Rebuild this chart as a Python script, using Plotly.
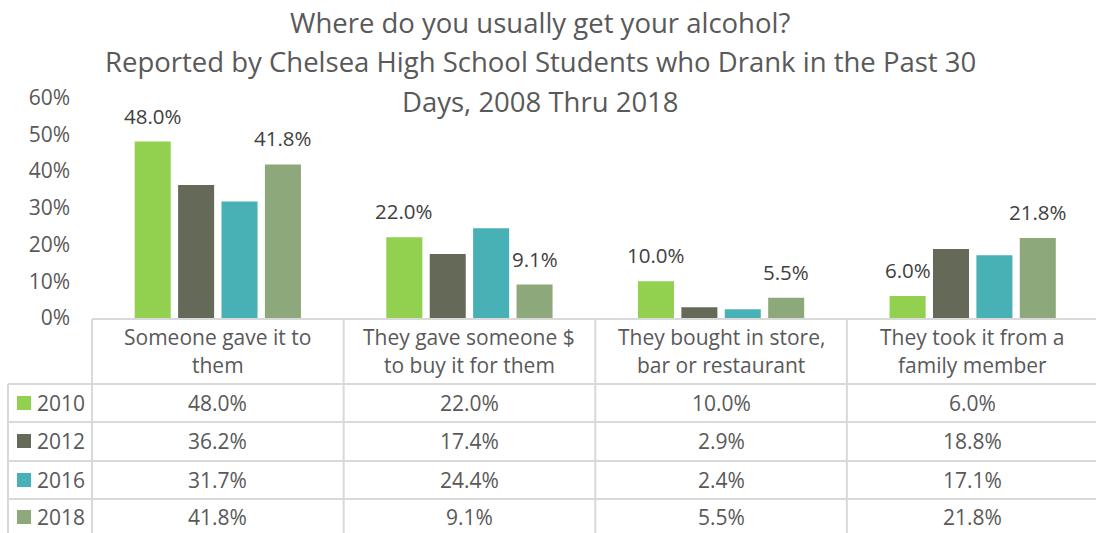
import plotly.graph_objects as go

# Survey categories (two display lines each) and yearly shares
categories = [
    "Someone gave it to them",
    "They gave someone $ to buy it for them",
    "They bought in store, bar or restaurant",
    "They took it from a family member",
]
category_lines = [
    ["Someone gave it to", "them"],
    ["They gave someone $", "to buy it for them"],
    ["They bought in store,", "bar or restaurant"],
    ["They took it from a", "family member"],
]
years = ["2010", "2012", "2016", "2018"]
values_2010 = [0.480, 0.220, 0.100, 0.060]
values_2012 = [0.362, 0.174, 0.029, 0.188]
values_2016 = [0.317, 0.244, 0.024, 0.171]
values_2018 = [0.418, 0.091, 0.055, 0.218]
series_values = [values_2010, values_2012, values_2016, values_2018]
labelled_years = ["2010", "2018"]
colors = ["#92D050", "#646A57", "#48B1B5", "#8DA97B"]
y_ticks = [0, 0.1, 0.2, 0.3, 0.4, 0.5, 0.6]

title_lines = [
    "Where do you usually get your alcohol?",
    "Reported by Chelsea High School Students who Drank in the Past 30",
    "Days, 2008 Thru 2018",
]

W, H = 1096, 533
FONT = "Open Sans"
TEXT = "#595959"
LABEL = "#404040"
GRID = "#D9D9D9"

BARGAP = 0.31
GROUPGAP = 0.17


def py(p):
    """Convert a pixel row (from the top) to paper y."""
    return 1 - p / H


def px(p):
    return p / W


fig = go.Figure()
for year, vals, col in zip(years, series_values, colors):
    fig.add_trace(go.Bar(
        name=year, x=list(range(len(categories))), y=vals,
        marker=dict(color=col, line=dict(width=0)),
        hoverinfo="skip",
    ))

shapes = []
annotations = []

# Value labels above the 2010 and 2018 bars
n = len(years)
slot = (1 - BARGAP) / n
for j, (year, vals) in enumerate(zip(years, series_values)):
    if year not in labelled_years:
        continue
    offset = -(1 - BARGAP) / 2 + (j + 0.5) * slot
    for i, v in enumerate(vals):
        annotations.append(dict(
            x=i + offset, y=v, xref="x", yref="y",
            text=f"{v * 100:.1f}%", showarrow=False,
            yanchor="middle", yshift=26,
            font=dict(family=FONT, size=20.5, color=LABEL),
        ))

# Title
for k, (line, yc) in enumerate(zip(title_lines, [22, 62, 101])):
    annotations.append(dict(
        x=px(540), y=py(yc), xref="paper", yref="paper",
        text=line, showarrow=False, xanchor="center", yanchor="middle",
        font=dict(family=FONT, size=27.5, color=TEXT),
    ))

# Data table grid
header_top, header_bottom = 319, 384
row_lines = [384, 422, 461, 499]
row_centers = [403, 441, 480, 517]
bottom = H

line_style = dict(color=GRID, width=2)
shapes.append(dict(type="line", xref="paper", yref="paper",
                   x0=px(92), x1=1, y0=py(header_top), y1=py(header_top),
                   line=line_style, layer="above"))
for r in row_lines:
    shapes.append(dict(type="line", xref="paper", yref="paper",
                       x0=px(8), x1=1, y0=py(r), y1=py(r), line=line_style))
shapes.append(dict(type="line", xref="paper", yref="paper",
                   x0=px(8), x1=px(8), y0=py(header_bottom), y1=py(bottom),
                   line=line_style))
shapes.append(dict(type="line", xref="paper", yref="paper",
                   x0=px(92), x1=px(92), y0=py(header_top), y1=py(bottom),
                   line=line_style))
for i in range(len(categories) - 1):
    shapes.append(dict(type="line", xref="x", yref="paper",
                       x0=i + 0.5, x1=i + 0.5, y0=py(header_top), y1=py(bottom),
                       line=line_style))

# Category header cells
for i, lines in enumerate(category_lines):
    for line, yc in zip(lines, [337, 365]):
        annotations.append(dict(
            x=i, y=py(yc), xref="x", yref="paper", text=line, showarrow=False,
            xanchor="center", yanchor="middle",
            font=dict(family=FONT, size=21, color=TEXT),
        ))

# Series rows: legend key, year and values
for year, vals, col, yc in zip(years, series_values, colors, row_centers):
    shapes.append(dict(type="rect", xref="paper", yref="paper",
                       x0=px(17), x1=px(31), y0=py(yc - 7), y1=py(yc + 7),
                       fillcolor=col, line=dict(width=0)))
    annotations.append(dict(
        x=px(35), y=py(yc), xref="paper", yref="paper", text=year,
        showarrow=False, xanchor="left", yanchor="middle",
        font=dict(family=FONT, size=21, color=TEXT),
    ))
    for i, v in enumerate(vals):
        annotations.append(dict(
            x=i, y=py(yc), xref="x", yref="paper", text=f"{v * 100:.1f}%",
            showarrow=False, xanchor="center", yanchor="middle",
            font=dict(family=FONT, size=21, color=TEXT),
        ))

fig.update_layout(
    width=W, height=H,
    margin=dict(l=0, r=0, t=0, b=0),
    paper_bgcolor="white", plot_bgcolor="white",
    barmode="group", bargap=BARGAP, bargroupgap=GROUPGAP,
    showlegend=False,
    shapes=shapes, annotations=annotations,
    xaxis=dict(
        domain=[px(92), 1], range=[-0.5, 3.49],
        showticklabels=False, showgrid=False, zeroline=False, showline=False,
        ticks="", fixedrange=True,
    ),
    yaxis=dict(
        domain=[py(318), py(97.5)], range=[0, 0.6],
        tickvals=y_ticks, tickformat=".0%",
        showgrid=False, zeroline=False, showline=False, ticks="",
        ticklabelstandoff=21, automargin=False,
        tickfont=dict(family=FONT, size=21, color=TEXT),
    ),
)

fig.write_html("out.html")
